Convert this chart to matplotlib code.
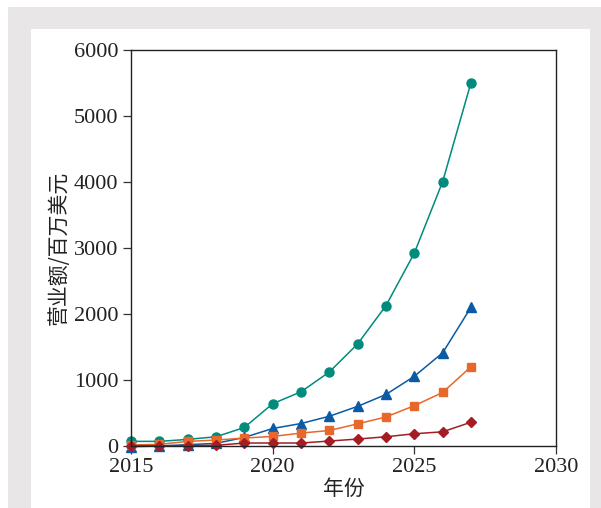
import matplotlib
matplotlib.use("Agg")
import matplotlib.pyplot as plt
from matplotlib.patches import Rectangle

years = [2015, 2016, 2017, 2018, 2019, 2020, 2021, 2022, 2023, 2024, 2025, 2026, 2027]
teal = [70, 70, 100, 140, 280, 640, 820, 1120, 1545, 2125, 2920, 4000, 5500]
blue = [-10, 0, 20, 40, 130, 265, 340, 450, 600, 780, 1055, 1410, 2100]
orange = [15, 25, 70, 90, 120, 145, 195, 235, 335, 440, 610, 810, 1200]
red = [5, 5, 5, 10, 45, 45, 45, 75, 105, 140, 185, 215, 360]

xticks = [2015, 2020, 2025, 2030]
yticks = [0, 1000, 2000, 3000, 4000, 5000, 6000]

W, H = 601, 508
fig = plt.figure(figsize=(W / 100, H / 100), dpi=100, facecolor="white")

# grey frame with white panel, kept behind the axes
fig.patches.append(Rectangle((8 / W, 0), 1 - 8 / W, 1 - 7 / H, transform=fig.transFigure,
                             facecolor="#e8e6e7", edgecolor="none", zorder=-2))
fig.patches.append(Rectangle((31 / W, 0), (590 - 31) / W, 1 - 29 / H, transform=fig.transFigure,
                             facecolor="white", edgecolor="none", zorder=-1))

ax = fig.add_axes([131 / W, (H - 446) / H, (556 - 131) / W, (446 - 49.5) / H])
ax.set_facecolor("none")

ax.plot(years, teal, color="#008b7d", marker="o", markersize=6.5, linewidth=1.1, clip_on=False)
ax.plot(years, blue, color="#0a5aa6", marker="^", markersize=7, linewidth=1.1, clip_on=False)
ax.plot(years, orange, color="#e8672a", marker="s", markersize=5.5, linewidth=1.1, clip_on=False)
ax.plot(years, red, color="#a51d24", marker="D", markersize=5, linewidth=1.1, clip_on=False)

ax.set_xlim(2015, 2030)
ax.set_ylim(0, 6000)
ax.set_xticks(xticks)
ax.set_yticks(yticks)

serif = ["Liberation Serif", "DejaVu Serif"]
for lab in ax.get_xticklabels() + ax.get_yticklabels():
    lab.set_family(serif)
    lab.set_fontsize(16)
    lab.set_color("#222222")

ax.tick_params(direction="out", length=6, width=0.9, pad=3, color="#333333")
for s in ax.spines.values():
    s.set_linewidth(1.0)
    s.set_color("#222222")

cjk = ["Noto Sans CJK SC", "DejaVu Sans"]
ax.set_xlabel("年份", family=cjk, fontsize=15, labelpad=0, color="#222222")
ax.set_ylabel("营业额/百万美元", family=cjk, fontsize=15, labelpad=3, color="#222222")

fig.savefig("out.png", dpi=100)
